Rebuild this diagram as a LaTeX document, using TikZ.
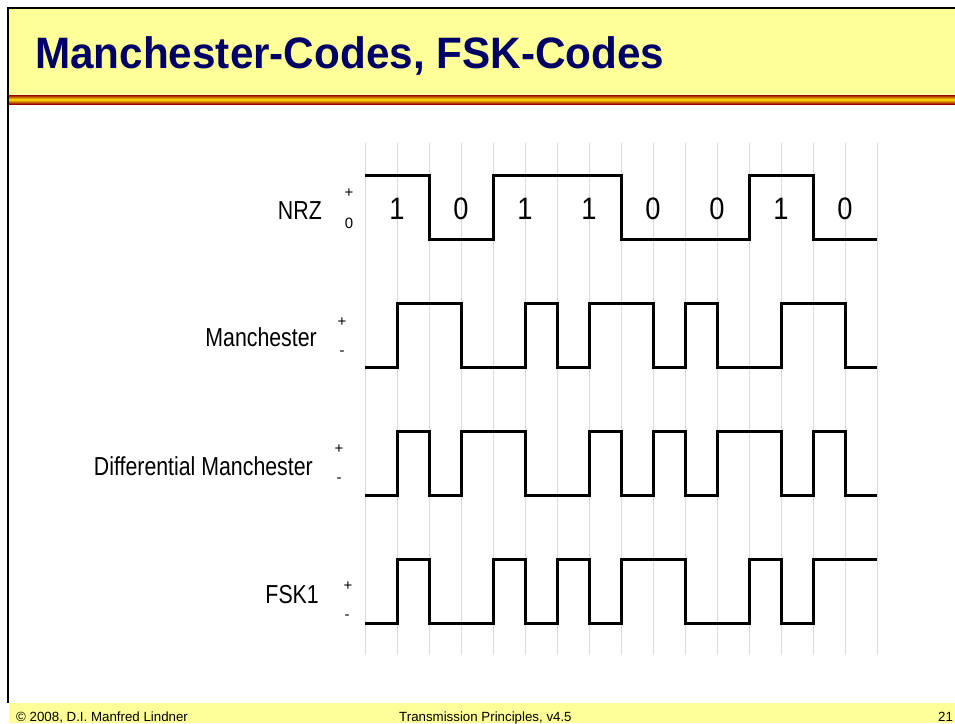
\documentclass[tikz,border=0pt]{standalone}
\usepackage{fontspec}
\setmainfont{Liberation Sans}
\definecolor{slideyellow}{HTML}{FFFF99}
\definecolor{titleblue}{HTML}{000066}
\definecolor{gridgray}{HTML}{D9D9D9}
\newcommand{\narrow}[1]{\scalebox{.82}[1]{#1}}

\begin{document}
\begin{tikzpicture}[x=1pt,y=-1pt,
  lbl/.style={inner sep=0,anchor=base east,font=\fontsize{26}{30}\selectfont},
  pm/.style={inner sep=0,font=\fontsize{15}{17}\selectfont},
  foot/.style={inner sep=0,anchor=base west,font=\fontsize{13.3}{15}\selectfont},
  wave/.style={line width=3pt,x=32pt,y=-64pt},
  gridline/.style={gridgray,line width=1pt}]
\useasboundingbox (0,0) rectangle (955,723);
% slide frame
\fill[slideyellow] (9,9) rectangle (955,95);
\shade[top color=red!60!black,bottom color=red!60!black,middle color=yellow!80!orange] (9,95) rectangle (955,104);
\fill[slideyellow] (9,703) rectangle (955,723);
\draw[line width=2.5pt] (955,8)--(8,8)--(8,703);
\node[inner sep=0,anchor=base west,text=titleblue,font=\fontsize{44}{48}\selectfont\bfseries] (title) at (35,68.3){\scalebox{.96}[1]{Manchester-Codes, FSK-Codes}};
\node[foot] (author) at (16,721){© 2008, D.I. Manfred Lindner};
\node[foot] (course) at (399,721){Transmission Principles, v4.5};
\node[foot] (page) at (938,721){21};
% half-bit grid
\foreach \i in {0,...,16}{\draw[gridline] (365+32*\i,143)--(365+32*\i,655);}
% signals
\draw[wave,shift={(365pt,-175pt)}] (0,0)-|(2,1)-|(4,0)-|(8,1)-|(12,0)-|(14,1)--(16,1);
\draw[wave,shift={(365pt,-303pt)}] (0,1)-|(1,0)-|(3,1)-|(5,0)-|(6,1)-|(7,0)-|(9,1)-|(10,0)-|(11,1)-|(13,0)-|(15,1)--(16,1);
\draw[wave,shift={(365pt,-431pt)}] (0,1)-|(1,0)-|(2,1)-|(3,0)-|(5,1)-|(7,0)-|(8,1)-|(9,0)-|(10,1)-|(11,0)-|(13,1)-|(14,0)-|(15,1)--(16,1);
\draw[wave,shift={(365pt,-559pt)}] (0,1)-|(1,0)-|(2,1)-|(4,0)-|(5,1)-|(6,0)-|(7,1)-|(8,0)-|(10,1)-|(12,0)-|(13,1)-|(14,0)--(16,0);
% labels
\node[lbl] (nrz) at (322,219.3){\narrow{NRZ}};
\node[lbl] (man) at (317,346.7){\narrow{Manchester}};
\node[lbl] (dman) at (313,475){\narrow{Differential Manchester}};
\node[lbl] (fsk) at (319,603.3){\narrow{FSK1}};
\foreach \b [count=\i from 0] in {1,0,1,1,0,0,1,0}{\node[inner sep=0,anchor=base,font=\fontsize{31}{34}\selectfont] (bit\i) at (397+64*\i,219.3){\scalebox{.88}[1]{\b}};}
\node[pm] (nrzhi) at (349,193){+}; \node[pm] (nrzlo) at (349,223){0};
\node[pm] (manhi) at (342,322){+}; \node[pm] (manlo) at (342,353){-};
\node[pm] (dmanhi) at (339,449){+}; \node[pm] (dmanlo) at (339,480){-};
\node[pm] (fskhi) at (348,586){+}; \node[pm] (fsklo) at (347,617){-};
\end{tikzpicture}
\end{document}
